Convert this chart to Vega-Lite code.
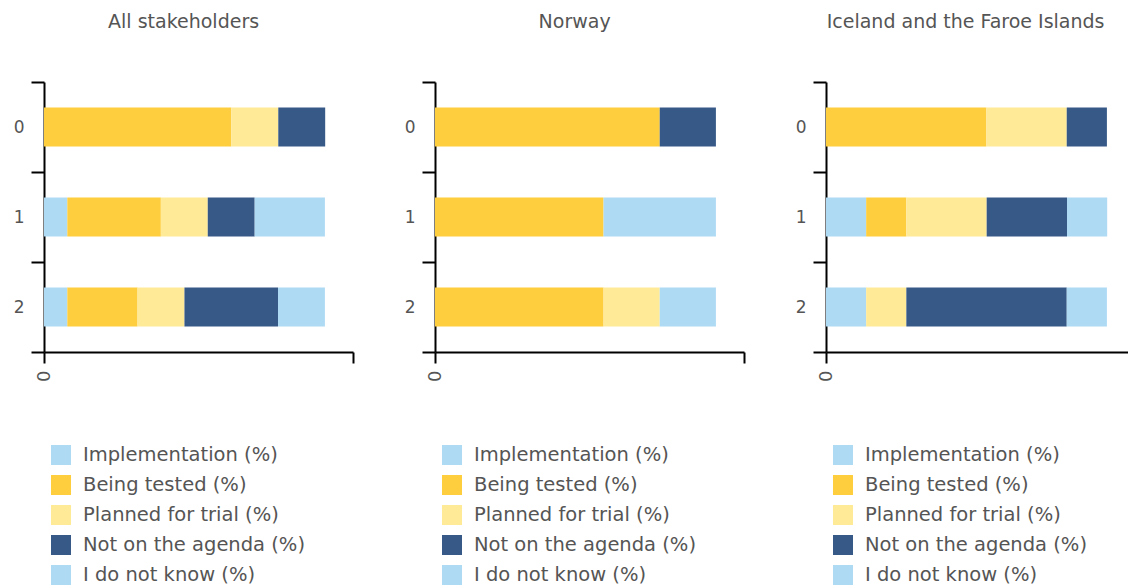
{
  "$schema": "https://vega.github.io/schema/vega-lite/v6.json",
  "padding": {"left": 13, "top": 13, "right": 0, "bottom": 0},
  "background": "white",
  "config": {
    "font": "DejaVu Sans",
    "view": {"stroke": null},
    "title": {"font": "DejaVu Sans", "fontSize": 19, "fontWeight": "normal", "color": "#555555", "anchor": "middle", "frame": "bounds", "offset": 41},
    "axis": {"domainColor": "#000000", "domainWidth": 2, "tickColor": "#000000", "tickWidth": 2, "grid": false, "labelFont": "DejaVu Sans", "labelFontSize": 17, "labelColor": "#555555", "title": null},
    "legend": {"labelFont": "DejaVu Sans", "labelFontSize": 19.5, "labelColor": "#555555", "symbolType": "square", "symbolSize": 400, "symbolStrokeWidth": 0, "symbolOpacity": 1, "labelOffset": 12, "rowPadding": 10, "labelLimit": 0, "title": null}
  },
  "data": {"values": [
    {"panel": "All stakeholders", "row": "0", "status": "Being tested (%)", "k": 2, "value": 66.7},
    {"panel": "All stakeholders", "row": "0", "status": "Planned for trial (%)", "k": 3, "value": 16.7},
    {"panel": "All stakeholders", "row": "0", "status": "Not on the agenda (%)", "k": 4, "value": 16.7},
    {"panel": "All stakeholders", "row": "1", "status": "Implementation (%)", "k": 1, "value": 8.3},
    {"panel": "All stakeholders", "row": "1", "status": "Being tested (%)", "k": 2, "value": 33.3},
    {"panel": "All stakeholders", "row": "1", "status": "Planned for trial (%)", "k": 3, "value": 16.7},
    {"panel": "All stakeholders", "row": "1", "status": "Not on the agenda (%)", "k": 4, "value": 16.7},
    {"panel": "All stakeholders", "row": "1", "status": "I do not know (%)", "k": 5, "value": 25},
    {"panel": "All stakeholders", "row": "2", "status": "Implementation (%)", "k": 1, "value": 8.3},
    {"panel": "All stakeholders", "row": "2", "status": "Being tested (%)", "k": 2, "value": 25},
    {"panel": "All stakeholders", "row": "2", "status": "Planned for trial (%)", "k": 3, "value": 16.7},
    {"panel": "All stakeholders", "row": "2", "status": "Not on the agenda (%)", "k": 4, "value": 33.3},
    {"panel": "All stakeholders", "row": "2", "status": "I do not know (%)", "k": 5, "value": 16.7},
    {"panel": "Norway", "row": "0", "status": "Being tested (%)", "k": 2, "value": 80},
    {"panel": "Norway", "row": "0", "status": "Not on the agenda (%)", "k": 4, "value": 20},
    {"panel": "Norway", "row": "1", "status": "Being tested (%)", "k": 2, "value": 60},
    {"panel": "Norway", "row": "1", "status": "I do not know (%)", "k": 5, "value": 40},
    {"panel": "Norway", "row": "2", "status": "Being tested (%)", "k": 2, "value": 60},
    {"panel": "Norway", "row": "2", "status": "Planned for trial (%)", "k": 3, "value": 20},
    {"panel": "Norway", "row": "2", "status": "I do not know (%)", "k": 5, "value": 20},
    {"panel": "Iceland and the Faroe Islands", "row": "0", "status": "Being tested (%)", "k": 2, "value": 57.1},
    {"panel": "Iceland and the Faroe Islands", "row": "0", "status": "Planned for trial (%)", "k": 3, "value": 28.6},
    {"panel": "Iceland and the Faroe Islands", "row": "0", "status": "Not on the agenda (%)", "k": 4, "value": 14.3},
    {"panel": "Iceland and the Faroe Islands", "row": "1", "status": "Implementation (%)", "k": 1, "value": 14.3},
    {"panel": "Iceland and the Faroe Islands", "row": "1", "status": "Being tested (%)", "k": 2, "value": 14.3},
    {"panel": "Iceland and the Faroe Islands", "row": "1", "status": "Planned for trial (%)", "k": 3, "value": 28.6},
    {"panel": "Iceland and the Faroe Islands", "row": "1", "status": "Not on the agenda (%)", "k": 4, "value": 28.6},
    {"panel": "Iceland and the Faroe Islands", "row": "1", "status": "I do not know (%)", "k": 5, "value": 14.3},
    {"panel": "Iceland and the Faroe Islands", "row": "2", "status": "Implementation (%)", "k": 1, "value": 14.3},
    {"panel": "Iceland and the Faroe Islands", "row": "2", "status": "Planned for trial (%)", "k": 3, "value": 14.3},
    {"panel": "Iceland and the Faroe Islands", "row": "2", "status": "Not on the agenda (%)", "k": 4, "value": 57.1},
    {"panel": "Iceland and the Faroe Islands", "row": "2", "status": "I do not know (%)", "k": 5, "value": 14.3}
  ]},
  "resolve": {"legend": {"color": "independent"}},
  "spacing": 50,
  "hconcat": [
    {
      "title": "All stakeholders",
      "width": 309, "height": 270,
      "transform": [{"filter": "datum.panel == 'All stakeholders'"}],
      "mark": {"type": "bar", "height": {"band": 0.433}},
      "encoding": {
        "y": {"field": "row", "type": "nominal", "scale": {"paddingInner": 0, "paddingOuter": 0}, "axis": {"tickBand": "extent", "tickSize": 13, "labelPadding": 7, "labelAngle": 0}},
        "x": {"field": "value", "type": "quantitative", "stack": "zero", "scale": {"domain": [0, 110], "nice": false}, "axis": {"values": [0, 110], "labelExpr": "datum.value == 0 ? '0' : ''", "tickSize": 11, "labelAngle": -90, "labelPadding": 7, "labelFontSize": 18}},
        "color": {"field": "status", "type": "nominal", "scale": {"domain": ["Implementation (%)", "Being tested (%)", "Planned for trial (%)", "Not on the agenda (%)", "I do not know (%)"], "range": ["#AEDAF4", "#FECE3F", "#FFEA97", "#375987", "#AEDAF4"]}, "legend": {"orient": "none", "legendX": 7, "legendY": 363, "direction": "vertical"}},
        "order": {"field": "k", "type": "quantitative"}
      }
    },
    {
      "title": "Norway",
      "width": 309, "height": 270,
      "transform": [{"filter": "datum.panel == 'Norway'"}],
      "mark": {"type": "bar", "height": {"band": 0.433}},
      "encoding": {
        "y": {"field": "row", "type": "nominal", "scale": {"paddingInner": 0, "paddingOuter": 0}, "axis": {"tickBand": "extent", "tickSize": 13, "labelPadding": 7, "labelAngle": 0}},
        "x": {"field": "value", "type": "quantitative", "stack": "zero", "scale": {"domain": [0, 110], "nice": false}, "axis": {"values": [0, 110], "labelExpr": "datum.value == 0 ? '0' : ''", "tickSize": 11, "labelAngle": -90, "labelPadding": 7, "labelFontSize": 18}},
        "color": {"field": "status", "type": "nominal", "scale": {"domain": ["Implementation (%)", "Being tested (%)", "Planned for trial (%)", "Not on the agenda (%)", "I do not know (%)"], "range": ["#AEDAF4", "#FECE3F", "#FFEA97", "#375987", "#AEDAF4"]}, "legend": {"orient": "none", "legendX": 7, "legendY": 363, "direction": "vertical"}},
        "order": {"field": "k", "type": "quantitative"}
      }
    },
    {
      "title": "Iceland and the Faroe Islands",
      "width": 309, "height": 270,
      "transform": [{"filter": "datum.panel == 'Iceland and the Faroe Islands'"}],
      "mark": {"type": "bar", "height": {"band": 0.433}},
      "encoding": {
        "y": {"field": "row", "type": "nominal", "scale": {"paddingInner": 0, "paddingOuter": 0}, "axis": {"tickBand": "extent", "tickSize": 13, "labelPadding": 7, "labelAngle": 0}},
        "x": {"field": "value", "type": "quantitative", "stack": "zero", "scale": {"domain": [0, 110], "nice": false}, "axis": {"values": [0, 110], "labelExpr": "datum.value == 0 ? '0' : ''", "tickSize": 11, "labelAngle": -90, "labelPadding": 7, "labelFontSize": 18}},
        "color": {"field": "status", "type": "nominal", "scale": {"domain": ["Implementation (%)", "Being tested (%)", "Planned for trial (%)", "Not on the agenda (%)", "I do not know (%)"], "range": ["#AEDAF4", "#FECE3F", "#FFEA97", "#375987", "#AEDAF4"]}, "legend": {"orient": "none", "legendX": 7, "legendY": 363, "direction": "vertical"}},
        "order": {"field": "k", "type": "quantitative"}
      }
    }
  ]
}
